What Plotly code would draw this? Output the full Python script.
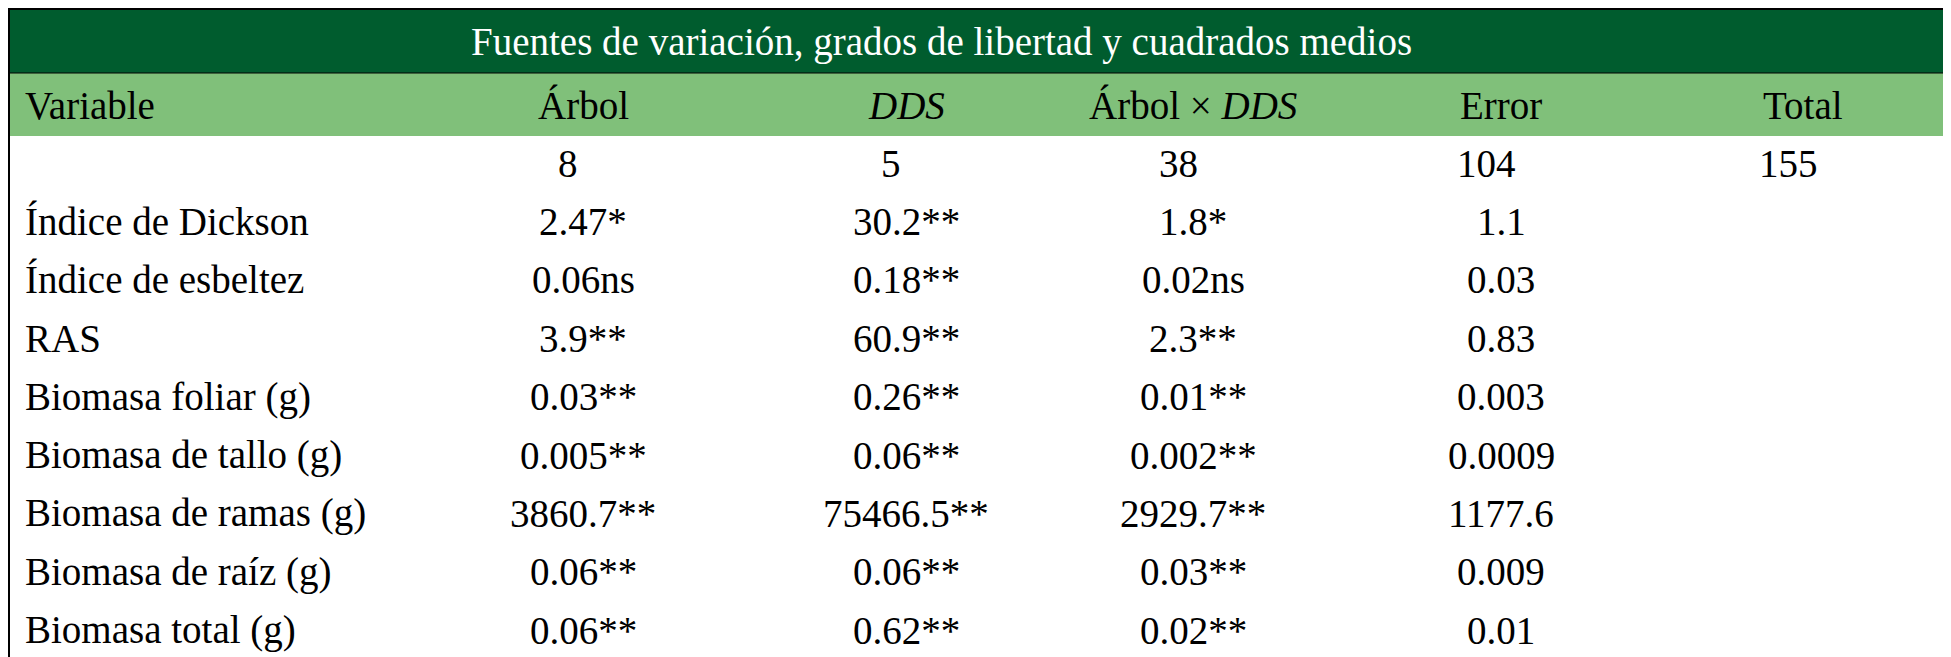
import plotly.graph_objects as go

title = "Fuentes de variación, grados de libertad y cuadrados medios"
headers = ["Variable", "Árbol", "<i>DDS</i>", "Árbol × <i>DDS</i>", "Error", "Total"]
grados = ["", "8", "5", "38", "104", "155"]
variables = ["Índice de Dickson", "Índice de esbeltez", "RAS", "Biomasa foliar (g)",
             "Biomasa de tallo (g)", "Biomasa de ramas (g)", "Biomasa de raíz (g)",
             "Biomasa total (g)"]
arbol = ["2.47*", "0.06ns", "3.9**", "0.03**", "0.005**", "3860.7**", "0.06**", "0.06**"]
dds = ["30.2**", "0.18**", "60.9**", "0.26**", "0.06**", "75466.5**", "0.06**", "0.62**"]
arbol_dds = ["1.8*", "0.02ns", "2.3**", "0.01**", "0.002**", "2929.7**", "0.03**", "0.02**"]
error = ["1.1", "0.03", "0.83", "0.003", "0.0009", "1177.6", "0.009", "0.01"]

W, H = 1951, 657
col_x = [15, 575, 898, 1185, 1493, 1795]
row0, row_h = 155, 58.4
font = dict(family="Liberation Serif", size=39, color="black")

fig = go.Figure()
fig.add_shape(type="rect", x0=0, x1=W, y0=0, y1=65, fillcolor="#005c2e", line_width=0, layer="below")
fig.add_shape(type="rect", x0=0, x1=W, y0=65, y1=128, fillcolor="#80c07a", line_width=0, layer="below")
fig.add_shape(type="rect", x0=1, x1=W - 2, y0=1, y1=H - 2, line=dict(color="black", width=2))
fig.add_shape(type="line", x0=0, x1=W, y0=65, y1=65, line=dict(color="black", width=1))

ann = [dict(x=933, y=34, text=title, showarrow=False,
            font=dict(family="Liberation Serif", size=39, color="white"))]
for j, h in enumerate(headers):
    ann.append(dict(x=col_x[j], y=97, text=h, showarrow=False, font=font,
                    xanchor="left" if j == 0 else "center"))
for j, g in enumerate(grados):
    ann.append(dict(x=col_x[j] - 15, y=row0, text=g, showarrow=False, font=font))
cols = [variables, arbol, dds, arbol_dds, error]
for i in range(len(variables)):
    y = row0 + row_h * (i + 1)
    for j, c in enumerate(cols):
        ann.append(dict(x=col_x[j], y=y, text=c[i], showarrow=False, font=font,
                        xanchor="left" if j == 0 else "center"))

fig.update_layout(
    width=W, height=H, margin=dict(l=0, r=0, t=0, b=0),
    plot_bgcolor="white", paper_bgcolor="white", annotations=ann, showlegend=False,
    xaxis=dict(range=[0, W], visible=False, fixedrange=True),
    yaxis=dict(range=[H, 0], visible=False, fixedrange=True),
)
fig.write_html("out.html", config={"displayModeBar": False})
